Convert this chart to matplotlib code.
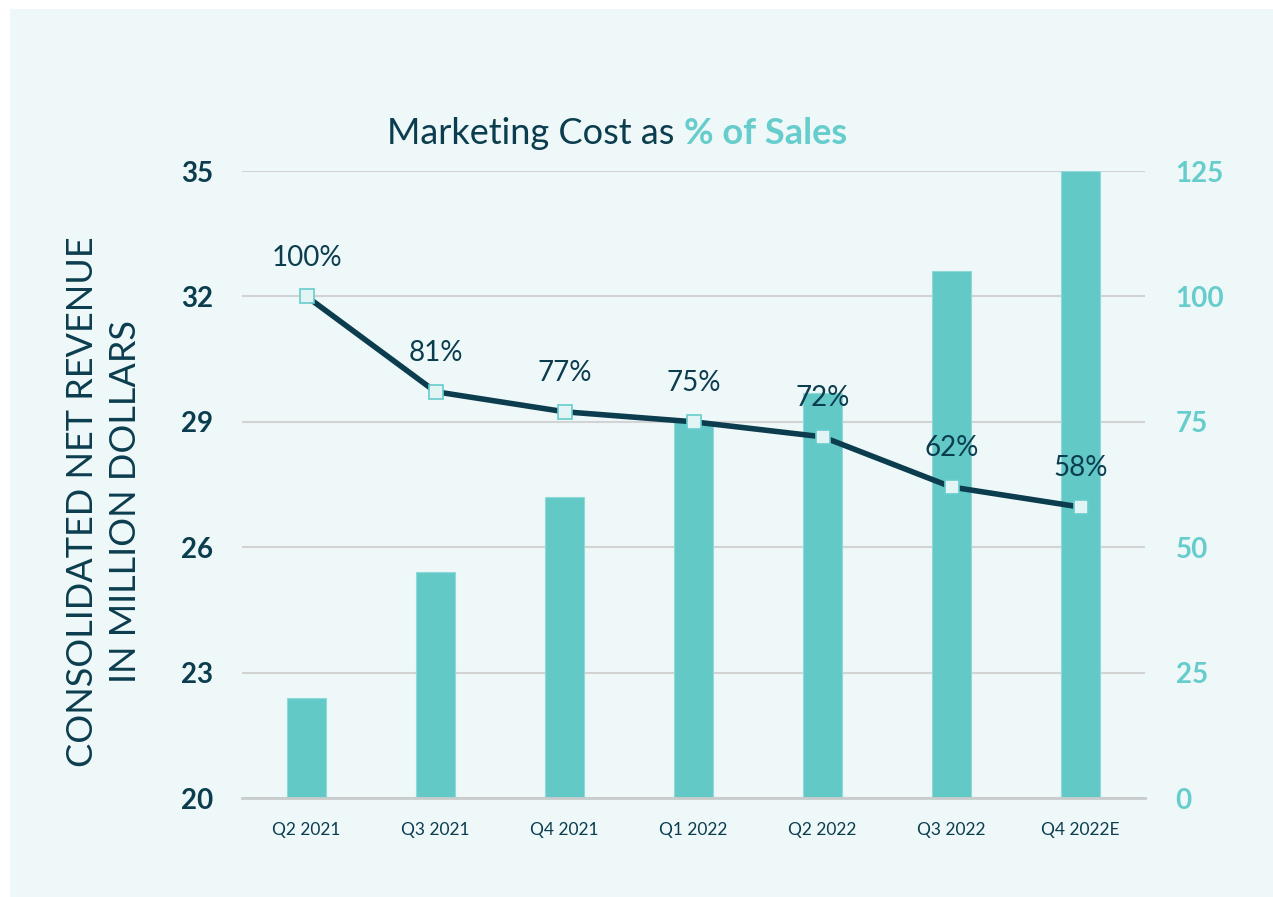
import matplotlib.pyplot as plt
import numpy as np
from matplotlib.patches import Rectangle

plt.rcParams.update({
    "font.family": ["Lato", "DejaVu Sans"],
    "figure.dpi": 100,
})

NAVY = "#0b3d4f"
TEAL = "#62c9c7"
TEAL_TXT = "#66cccc"
BG = "#eef8f8"
GRID = "#d3d3d3"

quarters = ["Q2 2021", "Q3 2021", "Q4 2021", "Q1 2022", "Q2 2022", "Q3 2022", "Q4 2022E"]
revenue = [22.4, 25.4, 27.2, 29.0, 29.7, 32.6, 35.0]
mkt_pct = [100, 81, 77, 75, 72, 62, 58]
left_ticks = [20, 23, 26, 29, 32, 35]
right_ticks = [0, 25, 50, 75, 100, 125]

fig = plt.figure(figsize=(12.73, 8.97))
fig.patch.set_facecolor("white")
fig.patches.append(Rectangle((10/1273, 0), 1, 1 - 9/897, transform=fig.transFigure,
                             facecolor=BG, edgecolor="none", zorder=-10))

ax = fig.add_axes([242/1273, 1 - 798/897, (1145-242)/1273, (798-171)/897])
ax.set_facecolor("none")
x = np.arange(len(quarters))
ax.bar(x, [r - 20 for r in revenue], bottom=20, width=0.31, color=TEAL,
       edgecolor="#8fdad8", linewidth=0.8, zorder=2)
ax.set_xlim(-0.5, len(quarters) - 0.5)
ax.set_ylim(20, 35)
ax.set_yticks(left_ticks)
ax.set_yticklabels([str(t) for t in left_ticks], fontsize=20, fontweight="bold", color=NAVY)
ax.tick_params(axis="y", length=0, pad=21)
ax.set_xticks(x)
ax.set_xticklabels(quarters, fontsize=12.5, color=NAVY)
ax.tick_params(axis="x", length=0, pad=17)
ax.yaxis.grid(True, color=GRID, linewidth=1.5, zorder=0)
ax.set_axisbelow(True)
for s in ["top", "right", "left"]:
    ax.spines[s].set_visible(False)
ax.spines["bottom"].set_color("#c8cccc")
ax.spines["bottom"].set_linewidth(2)

ax2 = ax.twinx()
ax2.set_ylim(0, 125)
ax2.set_yticks(right_ticks)
ax2.set_yticklabels([str(t) for t in right_ticks], fontsize=20, fontweight="bold", color=TEAL_TXT)
ax2.tick_params(axis="y", length=0, pad=22)
for s in ax2.spines.values():
    s.set_visible(False)
ax2.plot(x, mkt_pct, color=NAVY, linewidth=4, marker="s", markersize=9.5,
         markerfacecolor="#e2f4f3", markeredgecolor=TEAL_TXT, markeredgewidth=1.2, zorder=3)
for xi, v in zip(x, mkt_pct):
    ax2.annotate(f"{v}%", (xi, v), xytext=(0, 28), textcoords="offset points",
                 ha="center", va="center", fontsize=20, color=NAVY)

fig.text(0.537, 1 - 133/897, "Marketing Cost as ", ha="right", va="center",
         fontsize=26, color=NAVY)
fig.text(0.537, 1 - 133/897, "% of Sales", ha="left", va="center",
         fontsize=26, color=TEAL_TXT, fontweight="bold")

fig.text(83/1273, 1 - 502/897, "CONSOLIDATED NET REVENUE", rotation=90,
         ha="center", va="center", fontsize=26, color=NAVY)
fig.text(125/1273, 1 - 502/897, "IN MILLION DOLLARS", rotation=90,
         ha="center", va="center", fontsize=26, color=NAVY)

fig.savefig("out.png", dpi=100, facecolor=fig.get_facecolor())
